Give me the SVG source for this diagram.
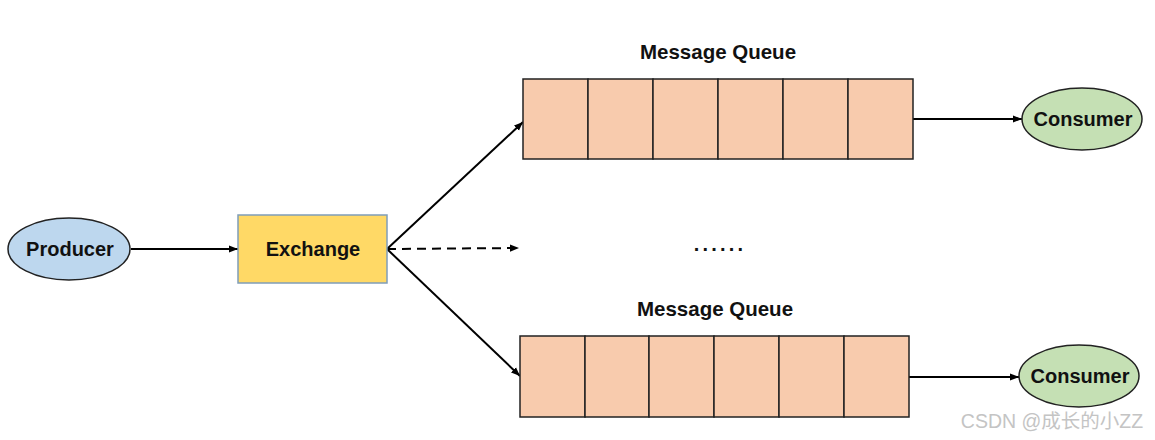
<svg xmlns="http://www.w3.org/2000/svg" width="1155" height="440" viewBox="0 0 1155 440">
<style>
.t{font-family:"Liberation Sans",Arial,sans-serif;font-weight:bold;fill:#111;text-anchor:middle}
.lbl{font-size:20px}
.ttl{font-size:20.5px}
.cell{fill:#F8CBAD;stroke:#222;stroke-width:1.5}
.ell{stroke:#222;stroke-width:1.5}
.ln{stroke:#000;stroke-width:2;fill:none}
</style>
<defs>
<marker id="ah" viewBox="0 0 10 10" refX="10" refY="5" markerWidth="9" markerHeight="9" markerUnits="userSpaceOnUse" orient="auto">
<path d="M0,1 L10,5 L0,9 Z" fill="#000"/>
</marker>
</defs>
<rect width="1155" height="440" fill="#fff"/>
<g id="connectors">
<line class="ln" x1="131" y1="249" x2="238" y2="249" marker-end="url(#ah)"/>
<line class="ln" x1="387" y1="249" x2="523" y2="122" marker-end="url(#ah)"/>
<line class="ln" x1="387" y1="249" x2="519" y2="248" stroke-dasharray="9,6" marker-end="url(#ah)"/>
<line class="ln" x1="387" y1="249" x2="520" y2="376" marker-end="url(#ah)"/>
<line class="ln" x1="913" y1="119" x2="1022" y2="119" marker-end="url(#ah)"/>
<line class="ln" x1="909" y1="377" x2="1019" y2="377" marker-end="url(#ah)"/>
</g>
<g id="producer">
<ellipse class="ell" cx="69" cy="249" rx="61" ry="31" fill="#BDD7EE"/>
<text class="t lbl" x="70" y="256">Producer</text>
</g>
<g id="exchange">
<rect x="238" y="215" width="149" height="68" fill="#FFD966" stroke="#7F9DB9" stroke-width="1.5"/>
<text class="t lbl" x="313" y="256">Exchange</text>
</g>
<g id="queue1">
<text class="t ttl" x="718" y="59">Message Queue</text>
<rect class="cell" x="523" y="79" width="65" height="80"/>
<rect class="cell" x="588" y="79" width="65" height="80"/>
<rect class="cell" x="653" y="79" width="65" height="80"/>
<rect class="cell" x="718" y="79" width="65" height="80"/>
<rect class="cell" x="783" y="79" width="65" height="80"/>
<rect class="cell" x="848" y="79" width="65" height="80"/>
</g>
<g id="dots">
<text class="t lbl" x="720" y="251" letter-spacing="3.2">......</text>
</g>
<g id="queue2">
<text class="t ttl" x="715" y="316">Message Queue</text>
<rect class="cell" x="520" y="336" width="65" height="81"/>
<rect class="cell" x="585" y="336" width="64" height="81"/>
<rect class="cell" x="649" y="336" width="65" height="81"/>
<rect class="cell" x="714" y="336" width="65" height="81"/>
<rect class="cell" x="779" y="336" width="65" height="81"/>
<rect class="cell" x="844" y="336" width="65" height="81"/>
</g>
<g id="consumer1">
<ellipse class="ell" cx="1082" cy="119" rx="60" ry="31" fill="#C5E0B4"/>
<text class="t lbl" x="1083" y="126">Consumer</text>
</g>
<g id="consumer2">
<ellipse class="ell" cx="1079" cy="376" rx="60" ry="31" fill="#C5E0B4"/>
<text class="t lbl" x="1080" y="383">Consumer</text>
</g>
<text x="1052" y="428" font-family="'Liberation Sans','Noto Sans CJK SC',sans-serif" font-size="19.5" fill="#c4c4c4" text-anchor="middle">CSDN @成长的小ZZ</text>
</svg>
